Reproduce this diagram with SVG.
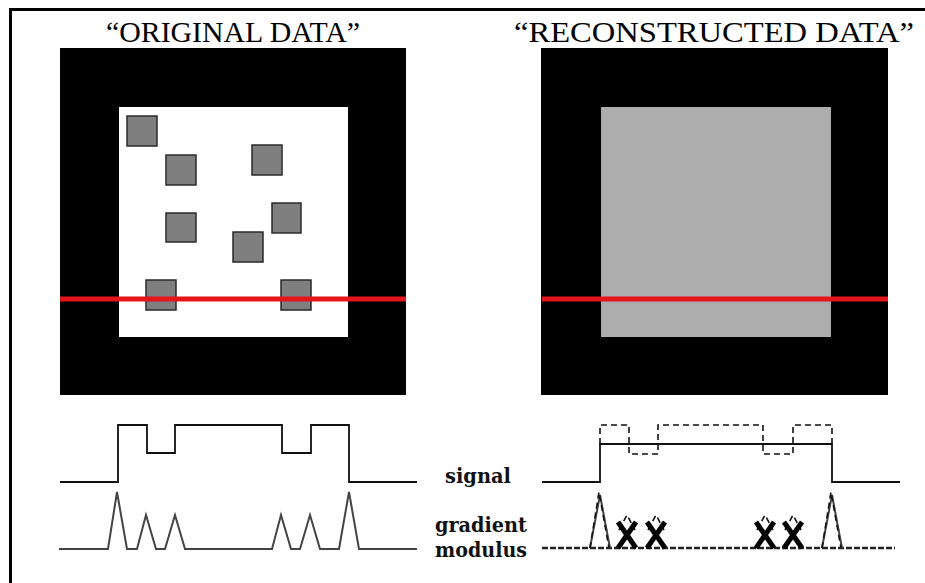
<svg xmlns="http://www.w3.org/2000/svg" width="925" height="583" viewBox="0 0 925 583">
  <style>
    .title { font-size: 29px; fill: #000; text-anchor: middle; }
    .label { font-size: 21px; fill: #111; text-anchor: middle; }
    .blk { fill: #000; }
    .blob { fill: #7f7f7f; stroke: #2a2a2a; stroke-width: 1.5; }
    .scan { stroke: #e3161c; stroke-width: 5; fill: none; }
    .sig { fill: none; stroke: #111; stroke-width: 1.8; stroke-linejoin: miter; }
    .grad { fill: none; stroke: #444; stroke-width: 2; stroke-linejoin: miter; }
    .dash { fill: none; stroke: #111; stroke-width: 1.6; stroke-dasharray: 6 4; }
    .gdash { fill: none; stroke: #222; stroke-width: 2.4; stroke-dasharray: 6 2; }
    .cross { stroke: #000; stroke-width: 5; stroke-linecap: butt; }
  </style>

  <rect x="0" y="0" width="925" height="583" fill="#fff"/>

  <!-- frame edges (left and top) -->
  <g id="frame">
    <rect x="9" y="8" width="916" height="3" class="blk"/>
    <rect x="9" y="8" width="3" height="575" class="blk"/>
  </g>

  <!-- titles -->
  <g id="titles" font-family="Liberation Serif, serif">
    <text class="title" x="233" y="42" textLength="254" lengthAdjust="spacingAndGlyphs">“ORIGINAL DATA”</text>
    <text class="title" x="714" y="42" textLength="400" lengthAdjust="spacingAndGlyphs">“RECONSTRUCTED DATA”</text>
  </g>

  <!-- original data panel -->
  <g id="panel-original">
    <rect x="60" y="48" width="346" height="347" class="blk"/>
    <rect x="119" y="107" width="229" height="230" fill="#fff"/>
    <rect class="blob" x="127" y="116" width="30" height="30"/>
    <rect class="blob" x="166" y="155" width="30" height="30"/>
    <rect class="blob" x="252" y="145" width="30" height="30"/>
    <rect class="blob" x="166" y="213" width="30" height="29"/>
    <rect class="blob" x="272" y="203" width="29" height="30"/>
    <rect class="blob" x="233" y="232" width="30" height="30"/>
    <rect class="blob" x="146" y="280" width="30" height="30"/>
    <rect class="blob" x="281" y="280" width="30" height="30"/>
    <line class="scan" x1="60" y1="299" x2="406" y2="299"/>
  </g>

  <!-- reconstructed data panel -->
  <g id="panel-reconstructed">
    <rect x="541" y="48" width="347" height="347" class="blk"/>
    <rect x="601" y="107" width="230" height="230" fill="#adadad"/>
    <line class="scan" x1="542" y1="299" x2="888" y2="299"/>
  </g>

  <!-- original signal and its gradient modulus -->
  <g id="plot-original">
    <path class="sig" d="M60,482 H118 V425 H147 V453 H175 V425 H282 V453 H311 V425 H349 V482 H417"/>
    <path class="grad" d="M59,549 H108 L117,492 L127,549 H137 L146,515 L156,549 H165 L175,515 L185,549 H272 L281,515 L291,549 H300 L310,515 L320,549 H339 L349,492 L359,549 H417"/>
  </g>

  <!-- reconstructed signal and its gradient modulus -->
  <g id="plot-reconstructed">
    <path class="sig" d="M542,482 H600 V444 H832 V482 H900"/>
    <path class="dash" d="M600,444 V425 H629 V454 H658 V425 H763 V454 H793 V425 H832 V444"/>
    <path class="gdash" d="M542,548 H895"/>
    <path class="grad" d="M590,548 L600,495 L610,548"/>
    <path class="grad" d="M822,548 L832,495 L842,548"/>
    <path class="dash" d="M590,548 L599,492 L609,548"/>
    <path class="dash" d="M822,548 L831,492 L841,548"/>
    <path class="dash" d="M619,530 L627,515 L635,530"/>
    <path class="dash" d="M648,530 L656,515 L664,530"/>
    <path class="dash" d="M757,530 L765,515 L773,530"/>
    <path class="dash" d="M785,530 L793,515 L801,530"/>
    <g id="crosses">
      <line class="cross" x1="618" y1="522" x2="636" y2="548"/>
      <line class="cross" x1="636" y1="522" x2="618" y2="548"/>
      <line class="cross" x1="647" y1="522" x2="665" y2="548"/>
      <line class="cross" x1="665" y1="522" x2="647" y2="548"/>
      <line class="cross" x1="756" y1="522" x2="774" y2="548"/>
      <line class="cross" x1="774" y1="522" x2="756" y2="548"/>
      <line class="cross" x1="784" y1="522" x2="802" y2="548"/>
      <line class="cross" x1="802" y1="522" x2="784" y2="548"/>
    </g>
  </g>

  <!-- curve labels -->
  <g id="labels" font-family="DejaVu Serif, serif" font-weight="bold">
    <text class="label" x="478" y="483" textLength="66" lengthAdjust="spacingAndGlyphs">signal</text>
    <text class="label" x="481" y="532" textLength="92" lengthAdjust="spacingAndGlyphs">gradient</text>
    <text class="label" x="481" y="557" textLength="92" lengthAdjust="spacingAndGlyphs">modulus</text>
  </g>
</svg>
